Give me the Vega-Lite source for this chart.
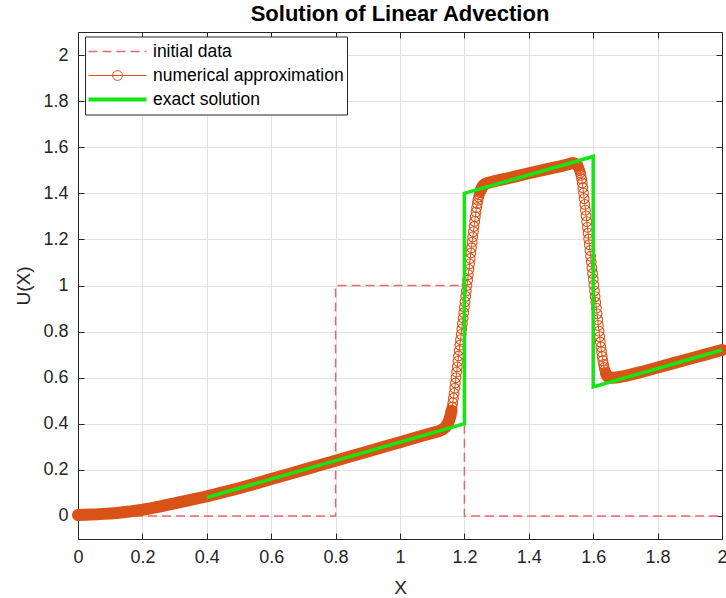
{
  "$schema": "https://vega.github.io/schema/vega-lite/v6.json",
  "width": 644,
  "height": 507,
  "autosize": {"type": "none"},
  "padding": {"left": 78, "top": 32, "right": 4, "bottom": 59},
  "background": "white",
  "title": {
    "text": "Solution of Linear Advection",
    "font": "Liberation Sans",
    "fontSize": 22,
    "fontWeight": "bold",
    "color": "#000000",
    "anchor": "middle",
    "frame": "group",
    "baseline": "alphabetic",
    "offset": 11,
    "dy": 22
  },
  "config": {
    "view": {"stroke": null},
    "axis": {
      "labelFont": "Liberation Sans",
      "labelFontSize": 18,
      "labelColor": "#262626",
      "titleFont": "Liberation Sans",
      "titleFontSize": 19,
      "titleFontWeight": "normal",
      "titleColor": "#262626",
      "domainColor": "#262626",
      "domainWidth": 1,
      "tickColor": "#262626",
      "tickSize": -6,
      "tickWidth": 1,
      "gridColor": "#e2e2e2",
      "gridWidth": 1,
      "labelFlush": false,
      "labelOverlap": false,
      "labelBound": false
    },
    "legend": {
      "orient": "none",
      "legendX": 7,
      "legendY": 4.5,
      "title": null,
      "fillColor": "white",
      "strokeColor": "#262626",
      "padding": 3,
      "labelFont": "Liberation Sans",
      "labelFontSize": 17.5,
      "labelColor": "#000000",
      "labelLimit": 400,
      "labelOffset": 6,
      "symbolSize": 3364,
      "clipHeight": 24,
      "rowPadding": 0
    }
  },
  "datasets": {
    "initial": [
      {"x": 0, "u": 0}, {"x": 0.8, "u": 0}, {"x": 0.8, "u": 1},
      {"x": 1.2, "u": 1}, {"x": 1.2, "u": 0}, {"x": 2, "u": 0}
    ],
    "numerical": [
      {"x": 0, "u": 0.004}, {"x": 0.02, "u": 0.005}, {"x": 0.04, "u": 0.006}, {"x": 0.06, "u": 0.007},
      {"x": 0.08, "u": 0.009}, {"x": 0.1, "u": 0.011}, {"x": 0.12, "u": 0.013}, {"x": 0.14, "u": 0.016},
      {"x": 0.16, "u": 0.019}, {"x": 0.18, "u": 0.023}, {"x": 0.2, "u": 0.027}, {"x": 0.22, "u": 0.032},
      {"x": 0.24, "u": 0.037}, {"x": 0.26, "u": 0.043}, {"x": 0.28, "u": 0.049}, {"x": 0.3, "u": 0.055},
      {"x": 0.32, "u": 0.061}, {"x": 0.34, "u": 0.067}, {"x": 0.36, "u": 0.073}, {"x": 0.38, "u": 0.079},
      {"x": 0.4, "u": 0.085}, {"x": 0.42, "u": 0.092}, {"x": 0.44, "u": 0.099}, {"x": 0.46, "u": 0.106},
      {"x": 0.48, "u": 0.113}, {"x": 0.5, "u": 0.12}, {"x": 0.55, "u": 0.14}, {"x": 0.6, "u": 0.16},
      {"x": 0.65, "u": 0.18}, {"x": 0.7, "u": 0.2}, {"x": 0.75, "u": 0.22}, {"x": 0.8, "u": 0.24},
      {"x": 0.85, "u": 0.26}, {"x": 0.9, "u": 0.28}, {"x": 0.95, "u": 0.3}, {"x": 1, "u": 0.32},
      {"x": 1.05, "u": 0.34}, {"x": 1.08, "u": 0.352}, {"x": 1.1, "u": 0.36}, {"x": 1.12, "u": 0.368},
      {"x": 1.13, "u": 0.374}, {"x": 1.136, "u": 0.379}, {"x": 1.14, "u": 0.384}, {"x": 1.144, "u": 0.391},
      {"x": 1.148, "u": 0.4}, {"x": 1.15, "u": 0.406}, {"x": 1.152, "u": 0.413}, {"x": 1.154, "u": 0.421},
      {"x": 1.156, "u": 0.431}, {"x": 1.158, "u": 0.443}, {"x": 1.16, "u": 0.457}, {"x": 1.162, "u": 0.473},
      {"x": 1.164, "u": 0.491}, {"x": 1.166, "u": 0.511}, {"x": 1.168, "u": 0.532}, {"x": 1.17, "u": 0.554},
      {"x": 1.172, "u": 0.577}, {"x": 1.174, "u": 0.6}, {"x": 1.176, "u": 0.624}, {"x": 1.178, "u": 0.647},
      {"x": 1.18, "u": 0.671}, {"x": 1.182, "u": 0.694}, {"x": 1.184, "u": 0.718}, {"x": 1.186, "u": 0.741},
      {"x": 1.188, "u": 0.765}, {"x": 1.19, "u": 0.788}, {"x": 1.192, "u": 0.812}, {"x": 1.194, "u": 0.835},
      {"x": 1.196, "u": 0.859}, {"x": 1.198, "u": 0.882}, {"x": 1.2, "u": 0.906}, {"x": 1.202, "u": 0.929},
      {"x": 1.204, "u": 0.953}, {"x": 1.206, "u": 0.976}, {"x": 1.208, "u": 1.0}, {"x": 1.21, "u": 1.023},
      {"x": 1.212, "u": 1.047}, {"x": 1.214, "u": 1.07}, {"x": 1.216, "u": 1.094}, {"x": 1.218, "u": 1.117},
      {"x": 1.22, "u": 1.141}, {"x": 1.222, "u": 1.164}, {"x": 1.224, "u": 1.188}, {"x": 1.226, "u": 1.211},
      {"x": 1.228, "u": 1.234}, {"x": 1.23, "u": 1.256}, {"x": 1.232, "u": 1.278}, {"x": 1.234, "u": 1.299},
      {"x": 1.236, "u": 1.319}, {"x": 1.238, "u": 1.338}, {"x": 1.24, "u": 1.355}, {"x": 1.242, "u": 1.37},
      {"x": 1.244, "u": 1.383}, {"x": 1.246, "u": 1.394}, {"x": 1.248, "u": 1.403}, {"x": 1.25, "u": 1.411},
      {"x": 1.252, "u": 1.418}, {"x": 1.254, "u": 1.424}, {"x": 1.256, "u": 1.429}, {"x": 1.258, "u": 1.433},
      {"x": 1.26, "u": 1.436}, {"x": 1.265, "u": 1.441}, {"x": 1.27, "u": 1.444}, {"x": 1.28, "u": 1.448},
      {"x": 1.29, "u": 1.451}, {"x": 1.3, "u": 1.455}, {"x": 1.35, "u": 1.47}, {"x": 1.4, "u": 1.487},
      {"x": 1.45, "u": 1.503}, {"x": 1.5, "u": 1.518}, {"x": 1.52, "u": 1.525}, {"x": 1.53, "u": 1.529},
      {"x": 1.535, "u": 1.531}, {"x": 1.54, "u": 1.531}, {"x": 1.544, "u": 1.529}, {"x": 1.548, "u": 1.525},
      {"x": 1.55, "u": 1.522}, {"x": 1.552, "u": 1.518}, {"x": 1.554, "u": 1.513}, {"x": 1.556, "u": 1.507},
      {"x": 1.558, "u": 1.499}, {"x": 1.56, "u": 1.49}, {"x": 1.562, "u": 1.478}, {"x": 1.564, "u": 1.463},
      {"x": 1.566, "u": 1.445}, {"x": 1.568, "u": 1.424}, {"x": 1.57, "u": 1.401}, {"x": 1.572, "u": 1.377},
      {"x": 1.574, "u": 1.352}, {"x": 1.576, "u": 1.327}, {"x": 1.578, "u": 1.302}, {"x": 1.58, "u": 1.277},
      {"x": 1.582, "u": 1.252}, {"x": 1.584, "u": 1.227}, {"x": 1.586, "u": 1.202}, {"x": 1.588, "u": 1.177},
      {"x": 1.59, "u": 1.152}, {"x": 1.592, "u": 1.127}, {"x": 1.594, "u": 1.102}, {"x": 1.596, "u": 1.077},
      {"x": 1.598, "u": 1.052}, {"x": 1.6, "u": 1.027}, {"x": 1.602, "u": 1.002}, {"x": 1.604, "u": 0.977},
      {"x": 1.606, "u": 0.952}, {"x": 1.608, "u": 0.927}, {"x": 1.61, "u": 0.902}, {"x": 1.612, "u": 0.877},
      {"x": 1.614, "u": 0.852}, {"x": 1.616, "u": 0.827}, {"x": 1.618, "u": 0.802}, {"x": 1.62, "u": 0.778},
      {"x": 1.622, "u": 0.755}, {"x": 1.624, "u": 0.733}, {"x": 1.626, "u": 0.712}, {"x": 1.628, "u": 0.692},
      {"x": 1.63, "u": 0.674}, {"x": 1.632, "u": 0.658}, {"x": 1.634, "u": 0.644}, {"x": 1.636, "u": 0.633},
      {"x": 1.638, "u": 0.624}, {"x": 1.64, "u": 0.617}, {"x": 1.642, "u": 0.611}, {"x": 1.644, "u": 0.607},
      {"x": 1.646, "u": 0.604}, {"x": 1.648, "u": 0.602}, {"x": 1.65, "u": 0.601}, {"x": 1.655, "u": 0.6},
      {"x": 1.66, "u": 0.6}, {"x": 1.67, "u": 0.601}, {"x": 1.68, "u": 0.603}, {"x": 1.7, "u": 0.608},
      {"x": 1.75, "u": 0.625}, {"x": 1.8, "u": 0.644}, {"x": 1.85, "u": 0.663}, {"x": 1.9, "u": 0.682},
      {"x": 1.95, "u": 0.701}, {"x": 2, "u": 0.72}
    ],
    "exact": [
      {"x": 0.4, "u": 0.08}, {"x": 1.2, "u": 0.4}, {"x": 1.2, "u": 1.4},
      {"x": 1.6, "u": 1.56}, {"x": 1.6, "u": 0.56}, {"x": 2, "u": 0.72}
    ]
  },
  "layer": [
    {
      "data": {"name": "initial"},
      "mark": {"type": "line", "strokeWidth": 1.5, "strokeDash": [9, 5]},
      "encoding": {
        "x": {
          "field": "x", "type": "quantitative",
          "scale": {"domain": [0, 2], "nice": false, "zero": false},
          "axis": {
            "orient": "bottom", "grid": true,
            "values": [0, 0.2, 0.4, 0.6, 0.8, 1, 1.2, 1.4, 1.6, 1.8, 2],
            "format": "~g", "labelPadding": 15,
            "title": "X", "titleY": 54, "titleBaseline": "alphabetic"
          }
        },
        "y": {
          "field": "u", "type": "quantitative",
          "scale": {"domain": [-0.1, 2.1], "nice": false, "zero": false},
          "axis": {
            "orient": "left", "grid": true,
            "values": [0, 0.2, 0.4, 0.6, 0.8, 1, 1.2, 1.4, 1.6, 1.8, 2],
            "format": "~g", "labelPadding": 16,
            "title": "U(X)", "titleX": -49, "titleY": 253.5,
            "titleAngle": -90, "titleAlign": "center", "titleBaseline": "alphabetic"
          }
        },
        "color": {
          "datum": "initial data", "type": "nominal",
          "scale": {
            "domain": ["initial data", "numerical approximation", "exact solution"],
            "range": ["#e66a6c", "#d95319", "#14e614"]
          },
          "legend": {
            "encode": {
              "symbols": {
                "update": {
                  "shape": {"signal": "(datum.value === 'numerical approximation' ? 'M-1,0H1M0.17,0A0.17,0.17,0,1,1,-0.17,0A0.17,0.17,0,1,1,0.17,0' : 'M-1,0H1')"},
                  "strokeDash": {"signal": "(datum.value === 'initial data' ? [9, 5] : [])"},
                  "strokeWidth": {"signal": "(datum.value === 'exact solution' ? 4 : (datum.value === 'initial data' ? 1.5 : 1))"},
                  "fill": {"value": "transparent"},
                  "opacity": {"value": 1}
                }
              }
            }
          }
        },
        "order": {"value": null}
      }
    },
    {
      "data": {"name": "numerical"},
      "transform": [{"filter": "datum.x <= 1.16"}],
      "mark": {"type": "line", "strokeWidth": 12, "strokeCap": "round", "strokeJoin": "round"},
      "encoding": {
        "x": {"field": "x", "type": "quantitative", "scale": {"domain": [0, 2], "nice": false, "zero": false}, "axis": null},
        "y": {"field": "u", "type": "quantitative", "scale": {"domain": [-0.1, 2.1], "nice": false, "zero": false}, "axis": null},
        "color": {"datum": "numerical approximation", "type": "nominal"}
      }
    },
    {
      "data": {"name": "numerical"},
      "transform": [{"filter": "datum.x >= 1.25 && datum.x <= 1.55"}],
      "mark": {"type": "line", "strokeWidth": 12, "strokeCap": "round", "strokeJoin": "round"},
      "encoding": {
        "x": {"field": "x", "type": "quantitative", "scale": {"domain": [0, 2], "nice": false, "zero": false}, "axis": null},
        "y": {"field": "u", "type": "quantitative", "scale": {"domain": [-0.1, 2.1], "nice": false, "zero": false}, "axis": null},
        "color": {"datum": "numerical approximation", "type": "nominal"}
      }
    },
    {
      "data": {"name": "numerical"},
      "transform": [{"filter": "datum.x >= 1.64"}],
      "mark": {"type": "line", "strokeWidth": 12, "strokeCap": "round", "strokeJoin": "round"},
      "encoding": {
        "x": {"field": "x", "type": "quantitative", "scale": {"domain": [0, 2], "nice": false, "zero": false}, "axis": null},
        "y": {"field": "u", "type": "quantitative", "scale": {"domain": [-0.1, 2.1], "nice": false, "zero": false}, "axis": null},
        "color": {"datum": "numerical approximation", "type": "nominal"}
      }
    },
    {
      "data": {"name": "numerical"},
      "mark": {"type": "line", "strokeWidth": 1},
      "encoding": {
        "x": {"field": "x", "type": "quantitative", "scale": {"domain": [0, 2], "nice": false, "zero": false}, "axis": null},
        "y": {"field": "u", "type": "quantitative", "scale": {"domain": [-0.1, 2.1], "nice": false, "zero": false}, "axis": null},
        "color": {"datum": "numerical approximation", "type": "nominal"}
      }
    },
    {
      "data": {"name": "numerical"},
      "mark": {"type": "point", "filled": false, "size": 95, "strokeWidth": 1.1, "opacity": 1},
      "encoding": {
        "x": {"field": "x", "type": "quantitative", "scale": {"domain": [0, 2], "nice": false, "zero": false}, "axis": null},
        "y": {"field": "u", "type": "quantitative", "scale": {"domain": [-0.1, 2.1], "nice": false, "zero": false}, "axis": null},
        "color": {"datum": "numerical approximation", "type": "nominal"}
      }
    },
    {
      "data": {"name": "exact"},
      "mark": {"type": "line", "strokeWidth": 3.5, "strokeJoin": "miter"},
      "encoding": {
        "x": {
          "field": "x", "type": "quantitative",
          "scale": {"domain": [0, 2], "nice": false, "zero": false},
          "axis": {
            "orient": "top", "grid": false, "labels": false, "title": null,
            "minExtent": 0, "maxExtent": 0,
            "values": [0, 0.2, 0.4, 0.6, 0.8, 1, 1.2, 1.4, 1.6, 1.8, 2]
          }
        },
        "y": {
          "field": "u", "type": "quantitative",
          "scale": {"domain": [-0.1, 2.1], "nice": false, "zero": false},
          "axis": {
            "orient": "right", "grid": false, "labels": false, "title": null,
            "minExtent": 0, "maxExtent": 0,
            "values": [0, 0.2, 0.4, 0.6, 0.8, 1, 1.2, 1.4, 1.6, 1.8, 2]
          }
        },
        "color": {"datum": "exact solution", "type": "nominal"},
        "order": {"value": null}
      }
    }
  ],
  "resolve": {"axis": {"x": "independent", "y": "independent"}}
}
